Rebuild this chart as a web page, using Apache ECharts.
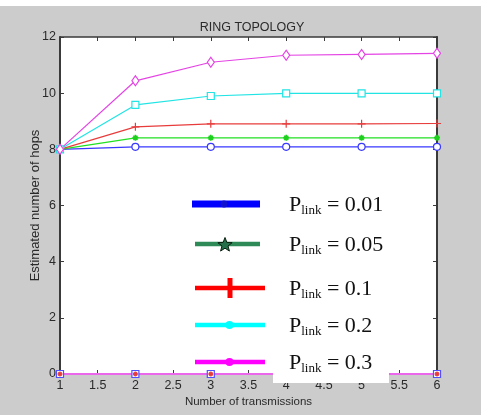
<!DOCTYPE html>
<html>
<head>
<meta charset="utf-8">
<script src="https://cdn.jsdelivr.net/npm/echarts@6/dist/echarts.min.js"></script>
<style>
html,body{margin:0;padding:0;background:#fff;}
#c{width:481px;height:415px;background:linear-gradient(to bottom,#ffffff 0,#ffffff 6px,#cccccc 6px,#cccccc 100%);}
</style>
</head>
<body>
<div id="c"></div>
<script>
// ---- data ----
const transmissions = [1, 2, 3, 4, 5, 6];
const p001 = [8.0, 8.09, 8.09, 8.09, 8.09, 8.09];
const p005 = [8.0, 8.41, 8.41, 8.41, 8.41, 8.41];
const p01  = [8.0, 8.80, 8.91, 8.91, 8.91, 8.92];
const p02  = [8.0, 9.58, 9.90, 9.99, 9.99, 9.99];
const p03  = [8.0, 10.44, 11.10, 11.35, 11.38, 11.42];
const zeros = [0, 0, 0, 0, 0, 0];
const legendValues = ['0.01', '0.05', '0.1', '0.2', '0.3'];
const xTickLabels = ['1', '1.5', '2', '2.5', '3', '3.5', '4', '4.5', '5', '5.5', '6'];
const yTickLabels = ['0', '2', '4', '6', '8', '10', '12'];
const titleText = 'RING TOPOLOGY';
const xName = 'Number of transmissions';
const yName = 'Estimated number of hops';

const pair = arr => arr.map((v, i) => [transmissions[i], v]);

const chart = echarts.init(document.getElementById('c'), null, {renderer: 'canvas'});

const FONT = '"Liberation Sans", Arial, sans-serif';
const SERIF = '"Liberation Serif", "Times New Roman", serif';
const axisCol = '#3a3a3a';
const plusPath = 'path://M0,5L10,5M5,0L5,10';
const astPath = 'path://M5,0L5,10M0,5L10,5M1.5,1.5L8.5,8.5M8.5,1.5L1.5,8.5';

function lineSeries(data, color, symbol, size, extra) {
  return Object.assign({
    type: 'line',
    data: pair(data),
    symbol: symbol,
    symbolSize: size,
    showSymbol: true,
    animation: false,
    lineStyle: {color: color, width: 1.2},
    itemStyle: {color: '#fff', borderColor: color, borderWidth: 1.2},
    z: 3
  }, extra || {});
}

const series = [
  lineSeries(p001, '#3838ff', 'circle', 7),
  lineSeries(p005, '#22e022', astPath, 6, {itemStyle: {color: 'rgba(0,0,0,0)', borderColor: '#1ed01e', borderWidth: 1.6}}),
  lineSeries(p01, '#e83c3c', plusPath, 8, {itemStyle: {color: 'rgba(0,0,0,0)', borderColor: '#e83c3c', borderWidth: 1.2}}),
  lineSeries(p02, '#22e4e4', 'rect', 7),
  lineSeries(p03, '#e444e4', 'diamond', [7, 10]),
  // zero-valued legend series at the bottom
  lineSeries(zeros, '#5050ff', 'rect', 7, {lineStyle: {color: '#5050ff', width: 1.2}}),
  lineSeries(zeros, '#22e022', 'none', 0),
  lineSeries(zeros, '#e83c3c', 'circle', 4, {itemStyle: {color: '#e83c3c', borderColor: '#e83c3c'}}),
  lineSeries(zeros, '#22e4e4', 'none', 0),
  lineSeries(zeros, '#ea66ea', 'none', 0, {lineStyle: {color: '#ea66ea', width: 2}})
];

// legend drawn as graphics (sample lines + rich text)
const legendCols = ['#0000ff', '#2e8b57', '#ff0000', '#00ffff', '#ff00ff'];
const legendY = [204, 244, 288, 325, 362];
const legendGraphics = [];
legendGraphics.push({type: 'rect', shape: {x: 273, y: 180, width: 116, height: 203}, style: {fill: '#fff'}, z: 50});
legendValues.forEach((v, i) => {
  const y = legendY[i];
  const x1 = i === 0 ? 192 : 195;
  const x2 = i === 0 ? 260 : (i === 1 ? 260 : 265);
  legendGraphics.push({type: 'line', shape: {x1: x1, y1: y, x2: x2, y2: y},
    style: {stroke: legendCols[i], lineWidth: i === 0 ? 7 : 4.5}, z: 60});
  if (i === 0) {
    legendGraphics.push({type: 'circle', shape: {cx: 224, cy: y, r: 3.5}, style: {fill: '#1010d0'}, z: 61});
  } else if (i === 1) {
    const pts = [];
    for (let k = 0; k < 10; k++) {
      const r = k % 2 === 0 ? 7.5 : 3.2;
      const a = -Math.PI / 2 + k * Math.PI / 5;
      pts.push([225 + r * Math.cos(a), y + 1 + r * Math.sin(a)]);
    }
    legendGraphics.push({type: 'polygon', shape: {points: pts}, style: {fill: '#24704a', stroke: '#0a200f', lineWidth: 1}, z: 61});
  } else if (i === 2) {
    legendGraphics.push({type: 'line', shape: {x1: 230, y1: y - 10, x2: 230, y2: y + 10}, style: {stroke: '#ff0000', lineWidth: 5}, z: 61});
  } else {
    legendGraphics.push({type: 'circle', shape: {cx: 229.5, cy: y, r: 4}, style: {fill: legendCols[i]}, z: 61});
  }
  legendGraphics.push({type: 'text', x: 289, y: y + 1, z: 62,
    style: {
      text: '{p|P}{s|link}{n| = ' + v + '}',
      verticalAlign: 'middle',
      rich: {
        p: {fontFamily: SERIF, fontSize: 22, fill: '#111', lineHeight: 24, verticalAlign: 'middle'},
        s: {fontFamily: SERIF, fontSize: 13, fill: '#111', lineHeight: 13, verticalAlign: 'bottom'},
        n: {fontFamily: SERIF, fontSize: 22, fill: '#111', lineHeight: 24, verticalAlign: 'middle'}
      }
    }});
});

const option = {
  backgroundColor: 'rgba(0,0,0,0)',
  animation: false,
  title: {
    text: titleText, left: 247, top: 16, textAlign: 'center',
    textStyle: {fontFamily: FONT, fontSize: 12.5, fontWeight: 'normal', color: '#2a2a2a'}
  },
  grid: {left: 60, top: 37, width: 377, height: 337, show: true, backgroundColor: '#fff', borderWidth: 0},
  xAxis: [{
    type: 'value', min: 1, max: 6, interval: 0.5, position: 'bottom',
    name: xName, nameLocation: 'middle', nameGap: 22, nameMoveOverlap: false,
    nameTextStyle: {fontFamily: FONT, fontSize: 11.5, color: '#2a2a2a'},
    axisLine: {show: true, onZero: false, lineStyle: {color: axisCol, width: 1.5}},
    axisTick: {show: true, inside: true, length: 4, lineStyle: {color: axisCol}},
    axisLabel: {margin: 5, fontFamily: FONT, fontSize: 12.5, color: '#2a2a2a',
      formatter: v => xTickLabels[Math.round((v - 1) * 2)]},
    splitLine: {show: false}
  }, {
    type: 'value', min: 1, max: 6, interval: 0.5, position: 'top',
    axisLine: {show: true, onZero: false, lineStyle: {color: axisCol, width: 1.5}},
    axisTick: {show: true, inside: true, length: 4, lineStyle: {color: axisCol}},
    axisLabel: {show: false}, splitLine: {show: false}
  }],
  yAxis: [{
    type: 'value', min: 0, max: 12, interval: 2, position: 'left',
    name: yName, nameLocation: 'middle', nameGap: 18, nameMoveOverlap: false,
    nameTextStyle: {fontFamily: FONT, fontSize: 13, color: '#2a2a2a'},
    axisLine: {show: true, onZero: false, lineStyle: {color: axisCol, width: 2}},
    axisTick: {show: true, inside: true, length: 4, lineStyle: {color: axisCol}},
    axisLabel: {margin: 4, fontFamily: FONT, fontSize: 12.5, color: '#2a2a2a',
      formatter: v => yTickLabels[Math.round(v / 2)]},
    splitLine: {show: false}
  }, {
    type: 'value', min: 0, max: 12, interval: 2, position: 'right',
    axisLine: {show: true, onZero: false, lineStyle: {color: axisCol, width: 2}},
    axisTick: {show: true, inside: true, length: 4, lineStyle: {color: axisCol}},
    axisLabel: {show: false}, splitLine: {show: false}
  }],
  series: series,
  graphic: legendGraphics
};
chart.setOption(option);
</script>
</body>
</html>
